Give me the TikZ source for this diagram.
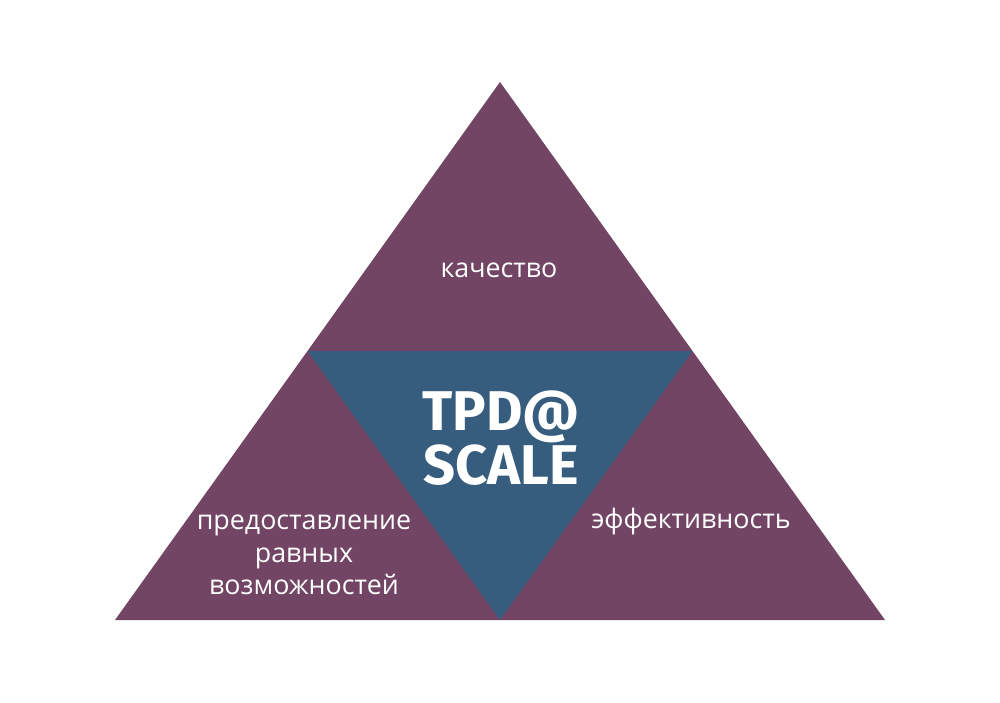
\documentclass[tikz,border=0pt]{standalone}
\usepackage{fontspec}
\setmainfont{Open Sans}
\newfontfamily\titlefont{Fira Sans}
\definecolor{plum}{HTML}{714563}
\definecolor{steel}{HTML}{365C7E}
\begin{document}
\begin{tikzpicture}[x=1pt,y=-1pt,
  lbl/.style={text=white,font=\fontsize{26.8}{32.5}\selectfont,align=center,inner sep=0pt},
  ttl/.style={text=white,font=\titlefont\bfseries\fontsize{56}{50}\selectfont,align=center,inner sep=0pt}]
\useasboundingbox (0,0) rectangle (1000,703);
\coordinate (A) at (500,82);
\coordinate (L) at (115,620);
\coordinate (R) at (885,620);
\coordinate (ML) at (307.5,351);
\coordinate (MR) at (692.5,351);
\coordinate (MB) at (500,620);
\fill[plum] (A) -- (L) -- (R) -- cycle;
\fill[steel] (ML) -- (MR) -- (MB) -- cycle;
\node[lbl] (q) at (499,270) {качество};
\node[lbl] (e) at (691,522) {эффективность};
\node[lbl] (p) at (304,555) {предоставление\\равных\\возможностей};
\node[ttl] (t) at (501,438) {TPD@\\SCALE};
\end{tikzpicture}
\end{document}
